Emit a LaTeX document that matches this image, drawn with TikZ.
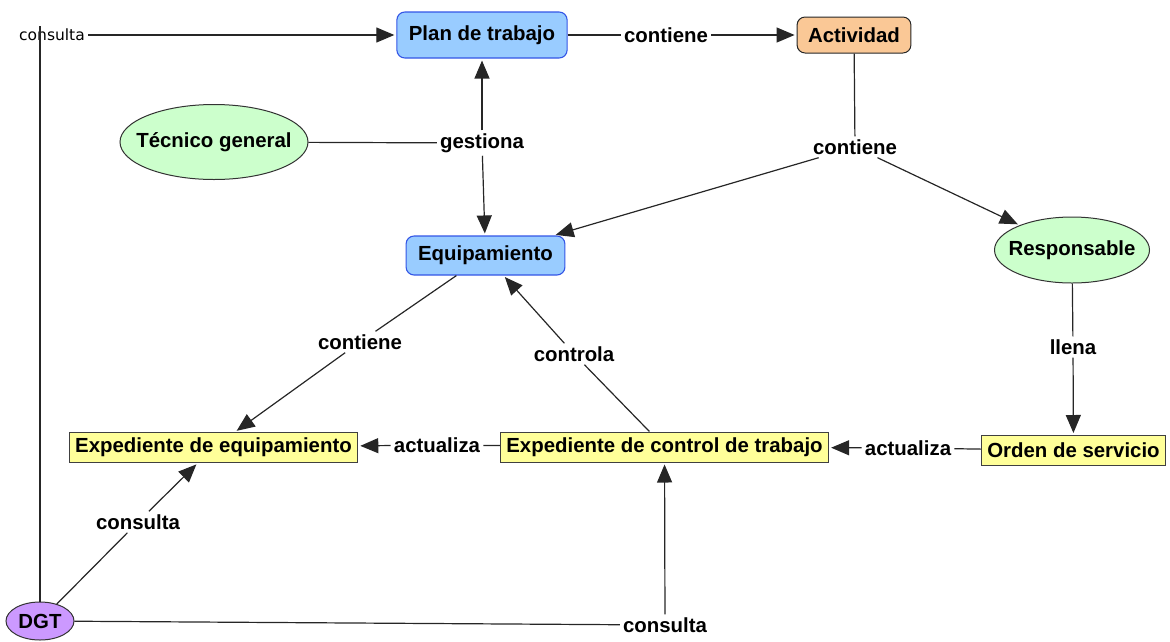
\documentclass[tikz,border=0pt]{standalone}
\usepackage{fontspec}
\setmainfont{Liberation Sans}
\newfontfamily\smallfont{DejaVu Sans}
\usetikzlibrary{shapes.geometric,arrows.meta}
\definecolor{azul}{RGB}{153,204,255}
\definecolor{azulborde}{RGB}{51,85,230}
\definecolor{naranja}{RGB}{250,200,150}
\definecolor{verde}{RGB}{204,255,204}
\definecolor{amarillo}{RGB}{255,255,153}
\definecolor{morado}{RGB}{204,153,255}

\begin{document}
\begin{tikzpicture}[x=1pt, y=-1pt,
		every node/.style={font=\bfseries\fontsize{20.4}{24}\selectfont},
		azulbox/.style={draw=azulborde, fill=azul, line width=1.1pt, rounded corners=8pt, inner xsep=12pt, minimum height=39pt},
		naranjabox/.style={draw=black!85, fill=naranja, line width=1pt, rounded corners=8pt, inner xsep=11pt, minimum height=36pt},
		amarillobox/.style={draw=black!75, fill=amarillo, line width=1pt, inner xsep=6pt, inner ysep=0pt, minimum height=30pt},
		elipse/.style={ellipse, draw=black!80, line width=1pt, inner sep=0pt},
		frase/.style={inner sep=3pt},
		link/.style={draw=black!85, line width=1.2pt},
		arr/.style={link, -{Triangle[length=18pt,width=15pt]}, shorten >=2pt}]
	\useasboundingbox (0,0) rectangle (1170,641);
	% conceptos
	\node[azulbox, minimum height=46pt] (plan) at (482,35) {Plan de trabajo};
	\node[naranjabox] (activ) at (854,35) {Actividad};
	\node[elipse, fill=verde, minimum width=188pt, minimum height=75pt] (tecnico) at (214,142) {\makebox[0pt]{T\'ecnico general}};
	\node[azulbox] (equip) at (485.5,255.5) {Equipamiento};
	\node[elipse, fill=verde, minimum width=155pt, minimum height=66pt] (resp) at (1072,250) {\makebox[0pt]{Responsable}};
	\node[amarillobox] (expeq) at (213.5,447.5) {Expediente de equipamiento};
	\node[amarillobox] (expctl) at (664.5,447) {Expediente de control de trabajo};
	\node[amarillobox] (orden) at (1073.5,450.5) {Orden de servicio};
	\node[elipse, fill=morado, minimum width=68pt, minimum height=38pt] (dgt) at (40,621) {\makebox[0pt]{DGT}};
	% frases de enlace
	\node[frase, font=\smallfont\fontsize{15.5}{18}\selectfont] (lcons1) at (52,35) {consulta};
	\node[frase] (lcont1) at (666,35) {contiene};
	\node[frase] (lcont2) at (855,147) {contiene};
	\node[frase] (lgest) at (482,143) {gestiona};
	\node[frase] (lcont3) at (360,342) {contiene};
	\node[frase] (lcontr) at (574,354) {controla};
	\node[frase] (llena) at (1073,347) {llena};
	\node[frase] (lact1) at (437,445) {actualiza};
	\node[frase] (lact2) at (908,448) {actualiza};
	\node[frase] (lcons2) at (138,522) {consulta};
	\node[frase] (lcons3) at (665,625) {consulta};
	% conectores
	\draw[link] (dgt) -- (dgt |- lcons1.north);
	\draw[arr] (lcons1) -- (plan);
	\draw[link] (plan) -- (lcont1);
	\draw[arr] (lcont1) -- (activ);
	\draw[link] (activ) -- (lcont2);
	\draw[arr] (lcont2) -- (equip);
	\draw[arr] (lcont2) -- (resp);
	\draw[link] (tecnico) -- (lgest);
	\draw[arr] (lgest) -- (plan);
	\draw[arr] (lgest) -- (equip);
	\draw[link] (equip) -- (lcont3);
	\draw[arr] (lcont3) -- (expeq);
	\draw[link] (expctl) -- (lcontr);
	\draw[arr] (lcontr) -- (equip);
	\draw[link] (resp) -- (llena);
	\draw[arr] (llena) -- (orden);
	\draw[link] (orden) -- (lact2);
	\draw[arr] (lact2) -- (expctl);
	\draw[link] (expctl) -- (lact1);
	\draw[arr] (lact1) -- (expeq);
	\draw[link] (dgt) -- (lcons2);
	\draw[arr] (lcons2) -- (expeq);
	\draw[link] (dgt) -- (lcons3);
	\draw[arr] (lcons3) -- (expctl);
\end{tikzpicture}
\end{document}
